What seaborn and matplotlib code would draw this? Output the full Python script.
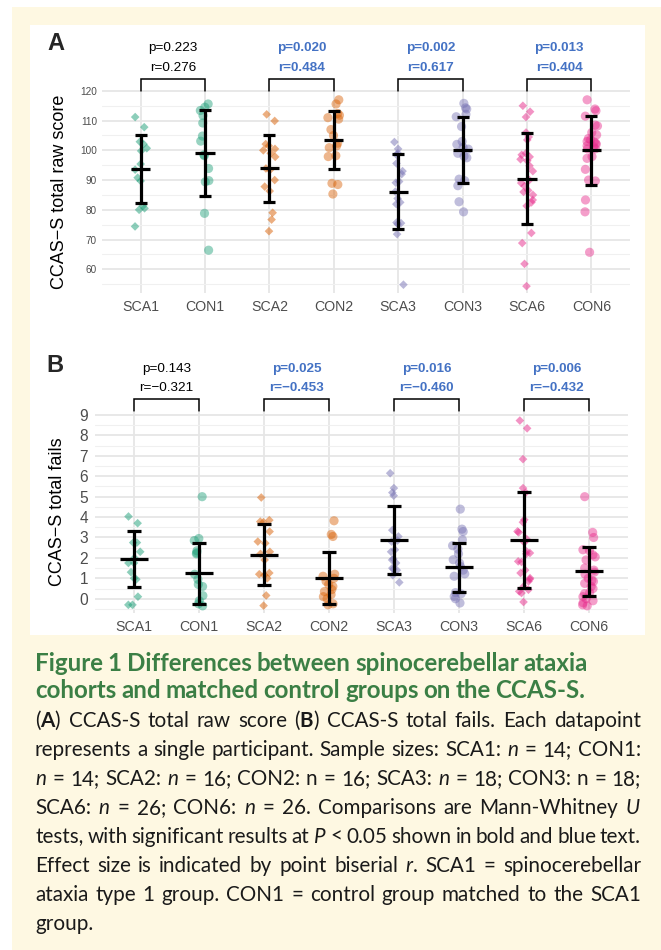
import numpy as np
import pandas as pd
import matplotlib
matplotlib.use("Agg")
import matplotlib.pyplot as plt
import seaborn as sns
from matplotlib.patches import Rectangle
from matplotlib.lines import Line2D
from matplotlib.transforms import blended_transform_factory

# ---------------- data ----------------
groups = ["SCA1", "CON1", "SCA2", "CON2", "SCA3", "CON3", "SCA6", "CON6"]
group_colors = ["#1B9E77", "#1B9E77", "#D95F02", "#D95F02",
                "#7570B3", "#7570B3", "#E7298A", "#E7298A"]

# Panel A: CCAS-S total raw score
raw_sca1 = [111.2, 107.8, 102.9, 102.1, 100.7, 99.8, 95.4, 93.5, 90.8, 89.7, 81.3, 80.5, 80.0, 74.4]
raw_con1 = [115.6, 114.5, 113.4, 111.7, 109.2, 104.8, 103.1, 98.5, 98.2, 93.9, 89.8, 89.4, 78.8, 66.4]
raw_sca2 = [112.1, 109.9, 102.1, 101.5, 100.5, 100.0, 99.0, 97.8, 93.9, 93.4, 90.0, 87.8, 86.3, 79.0, 76.7, 72.8]
raw_con2 = [117.0, 115.6, 112.4, 111.8, 111.0, 110.5, 107.0, 105.0, 102.4, 101.5, 100.9, 98.2, 97.9, 88.9, 88.5, 85.3]
raw_sca3 = [102.8, 100.5, 98.5, 99.0, 95.6, 93.0, 92.0, 89.1, 89.5, 86.1, 83.8, 81.9, 82.5, 75.7, 75.2, 75.5, 71.8, 54.8]
raw_con3 = [115.8, 114.3, 113.9, 112.1, 111.3, 108.0, 103.0, 102.0, 101.0, 98.0, 97.5, 100.4, 99.0, 90.3, 89.8, 88.1, 82.7, 79.3]
raw_sca6 = [115.0, 113.0, 111.2, 106.0, 104.5, 103.5, 99.0, 97.0, 98.5, 97.8, 96.5, 94.8, 93.0, 90.0, 89.0,
            88.0, 86.5, 86.0, 85.0, 83.3, 82.5, 81.3, 72.2, 68.8, 61.8, 54.3]
raw_con6 = [117.0, 113.9, 113.3, 111.5, 106.0, 108.5, 108.2, 104.0, 103.0, 102.0, 105.2, 100.5, 103.5, 102.8,
            102.4, 101.5, 101.2, 100.5, 97.9, 97.3, 93.6, 90.0, 89.7, 83.3, 79.3, 65.7]
raw_mean = [93.7, 99.1, 93.9, 103.55, 86.05, 100.2, 90.5, 100.05]
raw_sd = [11.3, 14.4, 11.25, 9.85, 12.65, 11.1, 15.2, 11.55]
raw_p = ["p=0.223", "p=0.020", "p=0.002", "p=0.013"]
raw_r = ["r=0.276", "r=0.484", "r=0.617", "r=0.404"]
raw_sig = [False, True, True, True]

# Panel B: CCAS-S total fails (as plotted, jittered)
fails_sca1 = [4.03, 3.70, 2.75, 2.75, 2.3, 2.0, 1.75, 1.75, 1.3, 1.0, 0.95, 0.1, -0.3, -0.3]
fails_con1 = [5.0, 2.95, 2.85, 2.35, 2.25, 2.2, 1.2, 0.95, 0.7, 0.6, 0.15, -0.1, -0.25, -0.35]
fails_sca2 = [4.96, 3.85, 3.78, 3.75, 3.29, 2.8, 2.72, 2.3, 2.2, 1.9, 1.26, 1.2, 1.15, 1.0, 0.16, -0.34]
fails_con2 = [3.82, 3.15, 3.05, 1.2, 1.1, 1.0, 0.85, 0.7, 0.6, 0.45, 0.35, 0.2, 0.1, 0.0, -0.25, -0.3]
fails_sca3 = [6.15, 5.42, 5.2, 5.05, 3.36, 3.05, 2.85, 2.8, 2.4, 2.3, 1.95, 1.9, 1.75, 1.5, 1.45, 1.4, 1.15, 0.8]
fails_con3 = [4.39, 3.41, 3.29, 2.89, 2.6, 2.43, 2.2, 1.91, 1.75, 1.58, 1.4, 1.22, 1.1, 0.3, 0.24, 0.11, 0.0, -0.21]
fails_sca6 = [8.73, 8.35, 6.84, 5.42, 5.2, 3.87, 3.75, 3.3, 3.25, 2.92, 2.76, 2.32, 2.24, 2.2, 1.83, 1.8,
              1.4, 1.26, 1.01, 0.95, 0.85, 0.6, 0.44, 0.36, 0.28, -0.16]
fails_con6 = [5.0, 3.25, 3.0, 2.4, 2.35, 2.15, 2.05, 1.9, 1.5, 1.4, 1.3, 1.2, 1.0, 0.9, 0.85, 0.75, 0.6,
              0.5, 0.3, 0.25, 0.1, 0.0, -0.1, -0.2, -0.3, -0.35]
fails_mean = [1.955, 1.24, 2.16, 1.03, 2.87, 1.53, 2.885, 1.34]
fails_sd = [1.385, 1.48, 1.51, 1.27, 1.66, 1.22, 2.365, 1.19]
fails_p = ["p=0.143", "p=0.025", "p=0.016", "p=0.006"]
fails_r = ["r=\u22120.321", "r=\u22120.453", "r=\u22120.460", "r=\u22120.432"]
fails_sig = [False, True, True, True]

raw_data = dict(zip(groups, [raw_sca1, raw_con1, raw_sca2, raw_con2, raw_sca3, raw_con3, raw_sca6, raw_con6]))
fails_data = dict(zip(groups, [fails_sca1, fails_con1, fails_sca2, fails_con2,
                               fails_sca3, fails_con3, fails_sca6, fails_con6]))

caption_title = ["Figure 1 Differences between spinocerebellar ataxia",
                 "cohorts and matched control groups on the CCAS-S."]
caption_body = [
    r"($\mathbf{A}$) CCAS-S total raw score ($\mathbf{B}$) CCAS-S total fails. Each datapoint",
    r"represents a single participant. Sample sizes: SCA1: $n$ = 14; CON1:",
    r"$n$ = 14; SCA2: $n$ = 16; CON2: n = 16; SCA3: $n$ = 18; CON3: n = 18;",
    r"SCA6: $n$ = 26; CON6: $n$ = 26. Comparisons are Mann-Whitney $U$",
    r"tests, with significant results at $P$ < 0.05 shown in bold and blue text.",
    r"Effect size is indicated by point biserial $r$. SCA1 = spinocerebellar",
    r"ataxia type 1 group. CON1 = control group matched to the SCA1",
    r"group.",
]

# ---------------- style ----------------
sns.set_theme(style="white")
plt.rcParams["font.family"] = ["Liberation Sans", "DejaVu Sans"]
plt.rcParams["mathtext.fontset"] = "custom"
plt.rcParams["mathtext.rm"] = "Lato"
plt.rcParams["mathtext.it"] = "Lato:italic"
plt.rcParams["mathtext.bf"] = "Lato:bold"

W, H = 661, 950
fig = plt.figure(figsize=(W / 100, H / 100), dpi=100)
fig.patch.set_facecolor("white")
CREAM = "#FEF8E2"
fig.patches.append(Rectangle((12 / W, 0), 649 / W, 943 / H, transform=fig.transFigure,
                             facecolor=CREAM, edgecolor="none", zorder=-10))
fig.patches.append(Rectangle((30 / W, 1 - 635 / H), 615 / W, 610 / H, transform=fig.transFigure,
                             facecolor="white", edgecolor="none", zorder=-9))

BLUE = "#4472C4"
GRID = "#E6E6E6"
GRID_MINOR = "#F0F0F0"
TICK = "#4D4D4D"
palette = dict(zip(groups, group_colors))


def fy(py):
    return 1 - py / H


def draw_panel(ax, data, means, sds, ylim, major, minor, ytickfs, ypad,
               mean_hw, cap_hw, pvals, rvals, sig, bracket_top, bracket_bot, p_base, r_base):
    df = pd.DataFrame([(g, v) for g in groups for v in data[g]], columns=["group", "value"])
    sca = df[df["group"].str.startswith("SCA")]
    con = df[df["group"].str.startswith("CON")]
    np.random.seed(7)
    sns.stripplot(data=sca, x="group", y="value", order=groups, hue="group", palette=palette,
                  marker="D", size=4.4, alpha=0.5, jitter=0.1, linewidth=0, legend=False,
                  ax=ax, zorder=2)
    sns.stripplot(data=con, x="group", y="value", order=groups, hue="group", palette=palette,
                  marker="o", size=6.6, alpha=0.45, jitter=0.1, linewidth=0, legend=False,
                  ax=ax, zorder=2)
    xs = np.arange(len(groups))
    m = np.array(means)
    s = np.array(sds)
    ax.vlines(xs, m - s, m + s, color="black", lw=2.3, zorder=4)
    ax.hlines(m + s, xs - cap_hw, xs + cap_hw, color="black", lw=2.3, zorder=4)
    ax.hlines(m - s, xs - cap_hw, xs + cap_hw, color="black", lw=2.3, zorder=4)
    ax.hlines(m, xs - mean_hw, xs + mean_hw, color="black", lw=2.3, zorder=4)

    ax.set_xlim(-0.6, 7.6)
    ax.set_ylim(*ylim)
    ax.set_yticks(major)
    ax.set_yticks(minor, minor=True)
    ax.set_xticks(xs)
    ax.set_xticklabels(groups)
    ax.grid(True, which="major", axis="both", color=GRID, lw=1.3, zorder=0)
    ax.grid(True, which="minor", axis="y", color=GRID_MINOR, lw=0.8, zorder=0)
    ax.set_axisbelow(True)
    for sp in ax.spines.values():
        sp.set_visible(False)
    ax.tick_params(axis="y", which="both", length=0, labelsize=ytickfs, labelcolor=TICK, pad=ypad)
    ax.tick_params(axis="x", which="both", length=0, labelsize=10.2, labelcolor=TICK, pad=5)
    ax.set_xlabel("")
    ax.set_ylabel("")
    ax.set_facecolor("white")

    tr = blended_transform_factory(ax.transData, fig.transFigure)
    for i in range(4):
        x0, x1 = 2 * i, 2 * i + 1
        ax.add_line(Line2D([x0, x0, x1, x1], [fy(bracket_bot), fy(bracket_top), fy(bracket_top), fy(bracket_bot)],
                           transform=tr, color="black", lw=1.1, clip_on=False, solid_joinstyle="miter"))
        col = BLUE if sig[i] else "black"
        wt = "bold" if sig[i] else "normal"
        xm = (x0 + x1) / 2
        ax.text(xm, fy(p_base), pvals[i], transform=tr, ha="center", va="baseline",
                fontsize=9.7, color=col, fontweight=wt, clip_on=False)
        ax.text(xm, fy(r_base), rvals[i], transform=tr, ha="center", va="baseline",
                fontsize=9.7, color=col, fontweight=wt, clip_on=False)


# Panel A
axA = fig.add_axes([102 / W, fy(293), 528 / W, 203 / H])
draw_panel(axA, raw_data, raw_mean, raw_sd, (52, 120.3), np.arange(60, 121, 10), np.arange(55, 120, 10),
           7.2, 3.5, 0.148, 0.093, raw_p, raw_r, raw_sig, 78.5, 91, 50.7, 70.7)
# Panel B
axB = fig.add_axes([95 / W, fy(613), 533 / W, 201 / H])
draw_panel(axB, fails_data, fails_mean, fails_sd, (-0.7, 9.15), np.arange(0, 10, 1), np.arange(-0.5, 9, 1),
           11.2, 5.0, 0.215, 0.108, fails_p, fails_r, fails_sig, 399, 411, 371.7, 391)

fig.text(56 / W, fy(43), "A", fontsize=17, fontweight="bold", ha="center", va="center")
fig.text(55 / W, fy(365), "B", fontsize=17, fontweight="bold", ha="center", va="center")
fig.text(60 / W, fy(192), "CCAS\u2212S total raw score", rotation=90, fontsize=13,
         ha="center", va="center", color="black")
fig.text(58 / W, fy(512), "CCAS\u2212S total fails", rotation=90, fontsize=13,
         ha="center", va="center", color="black")

# ---------------- caption ----------------
renderer = fig.canvas.get_renderer()
GREEN = "#3B7F45"
X0, X1 = 35, 641
SPACE_EM = 0.2


def make_words(text, ybase, fs, color, weight):
    return [fig.text(0, fy(ybase), w, fontsize=fs, color=color, fontweight=weight,
                     family="Lato", ha="left", va="baseline") for w in text.split(" ")]


def natural_width(objs, fs):
    ws = [o.get_window_extent(renderer).width for o in objs]
    return sum(ws) + SPACE_EM * fs * 100 / 72 * (len(objs) - 1)


def layout(objs, fs, justify):
    ws = [o.get_window_extent(renderer).width for o in objs]
    if justify and len(objs) > 1:
        gap = (X1 - X0 - sum(ws)) / (len(objs) - 1)
    else:
        gap = SPACE_EM * fs * 100 / 72
    x = X0
    for o, w in zip(objs, ws):
        o.set_x(x / W)
        x += w + gap


# title: fit first line width to the reference (~557 px)
title_base = [671, 698]
fs0 = 15.0
tl = [make_words(t, yb, fs0, GREEN, "bold") for t, yb in zip(caption_title, title_base)]
fs_title = fs0 * 557 / natural_width(tl[0], fs0)
for objs in tl:
    for o in objs:
        o.set_fontsize(fs_title)
    layout(objs, fs_title, False)

# body: fit the tightest line to the full width
body_base = [727, 756, 785, 814, 843, 872, 901, 930]
fs0 = 13.0
bl = [make_words(t, yb, fs0, "#1A1A1A", "normal") for t, yb in zip(caption_body, body_base)]
maxw = max(natural_width(objs, fs0) for objs in bl)
fs_body = fs0 * (X1 - X0) / maxw
for i, objs in enumerate(bl):
    for o in objs:
        o.set_fontsize(fs_body)
    layout(objs, fs_body, i < len(bl) - 1)

fig.savefig("out.png", dpi=100, facecolor=fig.get_facecolor())
